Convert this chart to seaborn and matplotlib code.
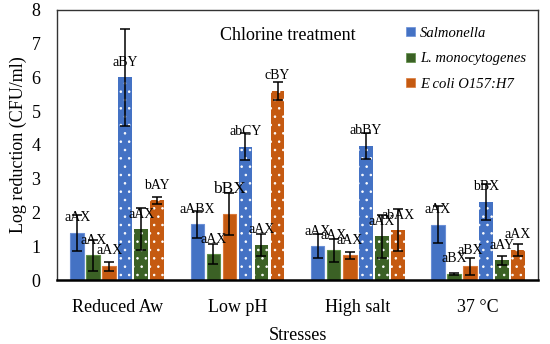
import numpy as np
import pandas as pd
import matplotlib
matplotlib.use('Agg')
import matplotlib.pyplot as plt
import seaborn as sns
from matplotlib.patches import Patch

# Stress conditions on the x axis
stresses = ['Reduced Aw', 'Low pH', 'High salt', '37 °C']
organisms = ['Salmonella', 'L. monocytogenes', 'E coli O157:H7']

# log reductions, first set (solid bars) and second set (dotted bars)
salm_solid = [1.39, 1.65, 1.00, 1.64]
lmono_solid = [0.73, 0.76, 0.88, 0.18]
ecoli_solid = [0.41, 1.95, 0.73, 0.41]
salm_dot = [6.00, 3.95, 3.97, 2.31]
lmono_dot = [1.50, 1.04, 1.29, 0.58]
ecoli_dot = [2.36, 5.60, 1.47, 0.89]

# standard deviations
salm_solid_err = [0.53, 0.40, 0.36, 0.54]
lmono_solid_err = [0.47, 0.30, 0.34, 0.04]
ecoli_solid_err = [0.13, 0.63, 0.10, 0.25]
salm_dot_err = [1.45, 0.40, 0.38, 0.53]
lmono_dot_err = [0.62, 0.33, 0.64, 0.14]
ecoli_dot_err = [0.10, 0.28, 0.62, 0.18]

# significance letters
salm_solid_lab = ['aAX', 'aABX', 'aAX', 'aAX']
lmono_solid_lab = ['aAX', 'aAX', 'aAX', 'aBX']
ecoli_solid_lab = ['aAX', 'bBX', 'aAX', 'aBX']
salm_dot_lab = ['aBY', 'abCY', 'abBY', 'bBX']
lmono_dot_lab = ['aAX', 'aAX', 'aAX', 'aAY']
ecoli_dot_lab = ['bAY', 'cBY', 'abAX', 'aAX']

bar_names = ['Salmonella 1', 'L. monocytogenes 1', 'E coli 1',
             'Salmonella 2', 'L. monocytogenes 2', 'E coli 2']
values = [salm_solid, lmono_solid, ecoli_solid, salm_dot, lmono_dot, ecoli_dot]
errors = [salm_solid_err, lmono_solid_err, ecoli_solid_err,
          salm_dot_err, lmono_dot_err, ecoli_dot_err]
labels = [salm_solid_lab, lmono_solid_lab, ecoli_solid_lab,
          salm_dot_lab, lmono_dot_lab, ecoli_dot_lab]

colors = ['#4472C4', '#3B6125', '#C55A11']
edges = ['#6A8FD6', '#5E8F45', '#DB7A3A']

rows = []
for name, vals in zip(bar_names, values):
    for s, v in zip(stresses, vals):
        rows.append({'stress': s, 'bar': name, 'value': v})
df = pd.DataFrame(rows)

plt.rcParams['font.family'] = ['Liberation Serif', 'DejaVu Serif']
plt.rcParams['hatch.linewidth'] = 0.6

fig = plt.figure(figsize=(5.5, 3.44), dpi=100)
ax = fig.add_axes([0.104, 0.186, 0.874, 0.785])

palette = dict(zip(bar_names, colors + colors))
sns.barplot(data=df, x='stress', y='value', hue='bar', hue_order=bar_names,
            order=stresses, palette=palette, width=0.8, gap=0.14,
            saturation=1, legend=False, errorbar=None, ax=ax)

for i, (cont, err, labs) in enumerate(zip(ax.containers, errors, labels)):
    dotted = i >= 3
    xs, ys = [], []
    for p in cont.patches:
        if dotted:
            p.set_hatch('..')
            p.set_edgecolor('white')
            p.set_linewidth(0)
        else:
            p.set_edgecolor(edges[i % 3])
            p.set_linewidth(0.8)
        xs.append(p.get_x() + p.get_width() / 2)
        ys.append(p.get_height())
    ax.errorbar(xs, ys, yerr=err, fmt='none', ecolor='black',
                elinewidth=1.1, capsize=3.5, capthick=1.1, zorder=5)
    for x, y, t in zip(xs, ys, labs):
        big = (t == 'bBX' and y > 1.9 and y < 2.0)
        ax.text(x, y + (0.75 if big else 0.45), t, ha='center', va='center',
                fontsize=12.5 if big else 10, zorder=6)

ax.set_ylim(0, 8)
ax.set_xlim(-0.5, 3.5)
ax.set_yticks(range(0, 9))
ax.tick_params(axis='both', length=0, labelsize=13)
ax.tick_params(axis='y', pad=12)
ax.tick_params(axis='x', pad=13.5)
ax.set_xlabel('Stresses', fontsize=13, labelpad=8)
ax.set_ylabel('Log reduction (CFU/ml)', fontsize=13, labelpad=3)

for side in ['top', 'right', 'left']:
    ax.spines[side].set_color('#333333')
    ax.spines[side].set_linewidth(1.0)
ax.spines['bottom'].set_color('black')
ax.spines['bottom'].set_linewidth(1.8)

ax.text(0.48, 0.905, 'Chlorine treatment', transform=ax.transAxes,
        ha='center', va='center', fontsize=13)

handles = [Patch(facecolor=c, edgecolor=e, linewidth=0.5) for c, e in zip(colors, edges)]
leg = ax.legend(handles, organisms, loc='upper left', bbox_to_anchor=(0.705, 0.975),
                frameon=False, prop={'style': 'italic', 'size': 10.5},
                handlelength=0.6, handleheight=0.6, handletextpad=0.35,
                labelspacing=0.85, borderpad=0.2)

fig.savefig('out.png', dpi=100)
